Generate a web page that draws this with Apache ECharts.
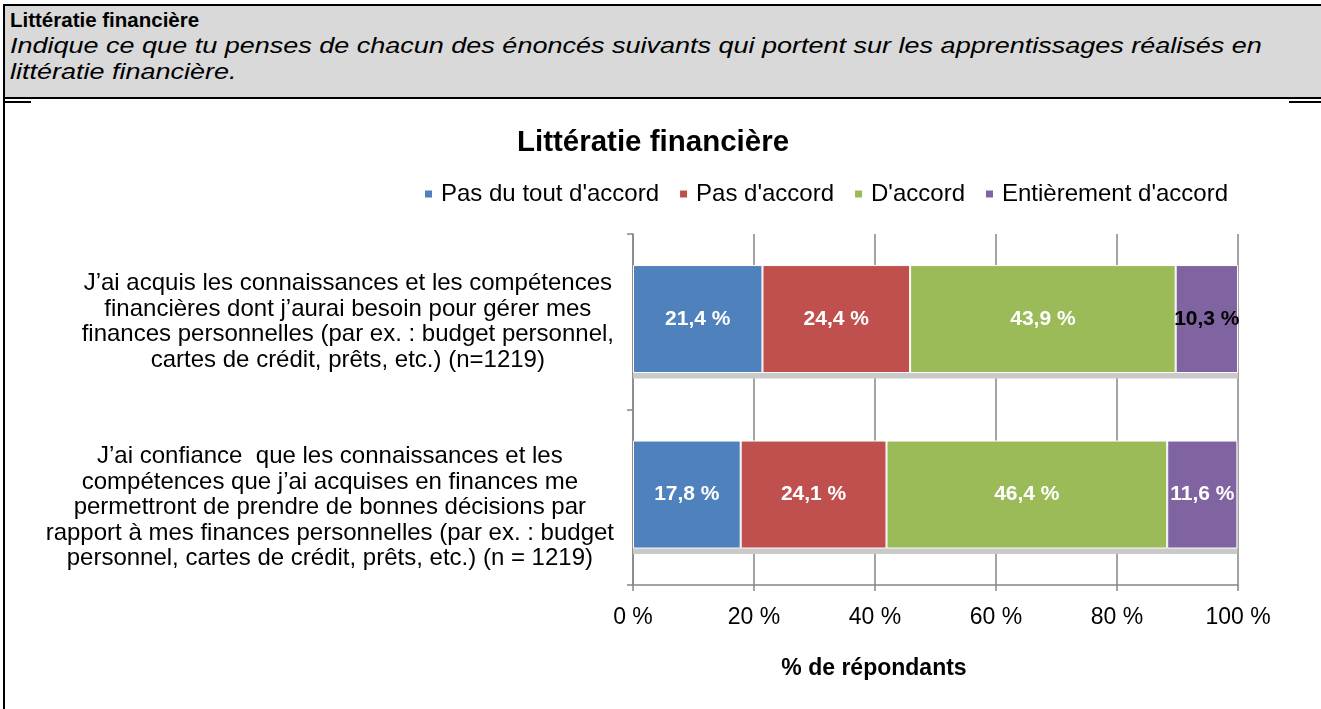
<!DOCTYPE html>
<html>
<head>
<meta charset="utf-8">
<title>Littératie financière</title>
<script src="https://cdn.jsdelivr.net/npm/echarts@6/dist/echarts.min.js"></script>
<style>
  html, body { margin: 0; padding: 0; background: #fff; width: 1321px; height: 709px; overflow: hidden;
               font-family: "Liberation Sans", Arial, sans-serif; color: #000; }
  #frame { position: absolute; left: 3px; top: 4px; width: 1330px; height: 720px;
           border-left: 2px solid #000; border-top: 2px solid #000; box-sizing: border-box; }
  #head { position: absolute; left: 5px; top: 6px; width: 1316px; height: 93px; background: #d9d9d9;
          border-bottom: 2px solid #000; box-sizing: border-box; }
  #head .t { position: absolute; left: 5px; top: 2px; font-weight: bold; font-size: 20.5px; }
  #head .s { position: absolute; left: 5px; top: 27px; font-style: italic; font-size: 22.5px; line-height: 26px;
             white-space: nowrap; transform: scaleX(1.2); transform-origin: 0 0; }
  .seg { position: absolute; height: 2px; background: #000; }
  #chart { position: absolute; left: 0; top: 103px; width: 1321px; height: 606px; }
</style>
</head>
<body>
<div id="frame"></div>
<div id="head">
  <div class="t">Littératie financière</div>
  <div class="s">Indique ce que tu penses de chacun des énoncés suivants qui portent sur les apprentissages réalisés en<br>littératie financière.</div>
</div>
<div class="seg" style="left:5px;top:101px;width:26px;"></div>
<div class="seg" style="left:1289px;top:101px;width:32px;"></div>
<div id="chart"></div>
<script>
// Statements (one bar each), answer categories and shares in %
const statements = [
  ["J’ai acquis les connaissances et les compétences",
   "financières dont j’aurai besoin pour gérer mes",
   "finances personnelles (par ex. : budget personnel,",
   "cartes de crédit, prêts, etc.) (n=1219)"],
  ["J’ai confiance  que les connaissances et les",
   "compétences que j’ai acquises en finances me",
   "permettront de prendre de bonnes décisions par",
   "rapport à mes finances personnelles (par ex. : budget",
   "personnel, cartes de crédit, prêts, etc.) (n = 1219)"]
];
const answers = ["Pas du tout d'accord", "Pas d'accord", "D'accord", "Entièrement d'accord"];
const pasDuTout = [21.4, 17.8];
const pasDAccord = [24.4, 24.1];
const dAccord = [43.9, 46.4];
const entierement = [10.3, 11.6];
const xTicks = [0, 20, 40, 60, 80, 100];

const colors = ["#4F81BD", "#C0504D", "#9BBB59", "#8064A2"];
const seriesValues = [pasDuTout, pasDAccord, dAccord, entierement];
const categoryKeys = statements.map((_, i) => "s" + i);
// Row totals, used for the grey drop band under each stacked bar
const rowTotals = categoryKeys.map((_, i) => seriesValues.reduce((s, arr) => s + arr[i], 0));

const fmtPct = v => v.toFixed(1).replace(".", ",") + " %";

const barSeries = answers.map((name, k) => ({
  name, type: "bar", stack: "total", barWidth: 108, barGap: "-95%", z: 3,
  itemStyle: { color: colors[k], borderColor: "#fff", borderWidth: 1 },
  label: { show: true, position: "inside", fontSize: 21, fontWeight: "bold", color: "#fff",
           formatter: p => fmtPct(p.value) },
  data: seriesValues[k].map((v, i) =>
    (k === 3 && i === 0) ? { value: v, label: { color: "#000" } } : v)
}));

const dropBand = {
  name: "bande", type: "bar", stack: "bande", barWidth: 108, z: 2, silent: true,
  itemStyle: { color: "#c9c9c9" },
  label: { show: false },
  data: rowTotals
};

const chart = echarts.init(document.getElementById("chart"));
chart.setOption({
  animation: false,
  textStyle: { fontFamily: "Liberation Sans, Arial, sans-serif" },
  graphic: [
    { type: "text", x: 653, y: 40,
      style: { text: "Littératie financière", font: "bold 29.5px 'Liberation Sans', Arial, sans-serif",
               fill: "#000", align: "center", verticalAlign: "middle" } },
    { type: "text", x: 874, y: 566,
      style: { text: "% de répondants", font: "bold 23px 'Liberation Sans', Arial, sans-serif",
               fill: "#000", align: "center", verticalAlign: "middle" } }
  ],
  legend: {
    data: answers, left: 418, top: 74, icon: "rect", itemWidth: 9, itemHeight: 9, itemGap: 19,
    textStyle: { fontSize: 24, color: "#000", padding: [0, 0, 0, 3] }
  },
  grid: { left: 633, right: 83, top: 131, bottom: 124, containLabel: false },
  xAxis: {
    type: "value", min: 0, max: 100, interval: 20,
    axisLine: { show: true, lineStyle: { color: "#868686", width: 1.5 } },
    axisTick: { show: true, length: 6, lineStyle: { color: "#868686", width: 1.5 } },
    splitLine: { show: true, lineStyle: { color: "#868686", width: 1.5 } },
    axisLabel: { fontSize: 23, color: "#000", margin: 21,
                 formatter: v => xTicks.includes(v) ? v + " %" : "" }
  },
  yAxis: {
    type: "category", inverse: true, data: categoryKeys,
    axisLine: { show: true, lineStyle: { color: "#868686", width: 1.5 } },
    axisTick: { show: true, length: 6, lineStyle: { color: "#868686", width: 1.5 } },
    axisLabel: {
      align: "right", margin: 19,
      formatter: (key) => {
        const i = categoryKeys.indexOf(key);
        const lines = statements[i].map(l => "{c|" + l + "}").join("\n");
        return i === 1 ? "{g| }\n" + lines : lines;
      },
      rich: {
        c: { align: "center", fontSize: 24, lineHeight: 25.5, color: "#000" },
        g: { fontSize: 10, lineHeight: 21 }
      }
    }
  },
  series: [...barSeries, dropBand]
});
</script>
</body>
</html>
